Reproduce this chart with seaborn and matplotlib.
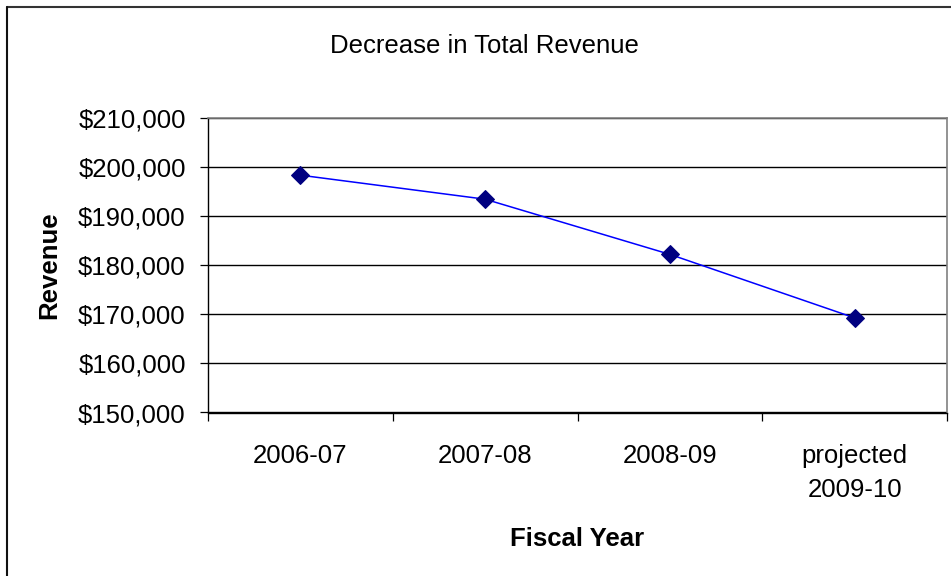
import matplotlib
matplotlib.use("Agg")
import matplotlib.pyplot as plt
from matplotlib.lines import Line2D
from matplotlib.ticker import FuncFormatter, FixedLocator
import seaborn as sns
import pandas as pd

categories = ["2006-07", "2007-08", "2008-09", "projected\n2009-10"]
revenue = [198400, 193500, 182250, 169300]
y_ticks = [150000, 160000, 170000, 180000, 190000, 200000, 210000]

sns.set_style("white")
plt.rcParams['font.family'] = ['Liberation Sans', 'DejaVu Sans']
plt.rcParams['text.color'] = 'black'
plt.rcParams['axes.labelcolor'] = 'black'
plt.rcParams['xtick.color'] = 'black'
plt.rcParams['ytick.color'] = 'black'

FS = 18.5
W, H, DPI = 951, 576, 100
fig = plt.figure(figsize=(W / DPI, H / DPI), dpi=DPI)
ax = fig.add_axes([208 / W, 1 - 412.5 / H, (947 - 208) / W, (412.5 - 118.3) / H])

df = pd.DataFrame({"pos": list(range(len(categories))), "revenue": revenue})
sns.lineplot(data=df, x="pos", y="revenue", ax=ax, color="#0000FF", linewidth=1.1,
             marker="D", markersize=9, markerfacecolor="#000080",
             markeredgecolor="#000080", zorder=3)

ax.set_xlim(-0.5, len(categories) - 0.5)
ax.set_ylim(y_ticks[0], y_ticks[-1])
ax.set_yticks(y_ticks)
ax.yaxis.set_major_formatter(FuncFormatter(lambda v, p: f"${v:,.0f}"))
ax.yaxis.grid(True, color="black", linewidth=1.0)
ax.set_axisbelow(True)

# category boundaries as major ticks, labels at centers as minor ticks
ax.xaxis.set_major_locator(FixedLocator([i - 0.5 for i in range(len(categories) + 1)]))
ax.xaxis.set_major_formatter(FuncFormatter(lambda v, p: ""))
ax.xaxis.set_minor_locator(FixedLocator(list(range(len(categories)))))
ax.set_xticklabels(categories, minor=True, linespacing=1.5)
ax.tick_params(axis="x", which="major", direction="out", length=6, width=0.9, color="black", bottom=True)
ax.tick_params(axis="x", which="minor", length=0, pad=23, labelsize=FS)
ax.tick_params(axis="y", which="major", direction="out", length=6, width=0.9, color="black",
               left=True, labelsize=FS, pad=10)

for s in ["left", "bottom"]:
    ax.spines[s].set_color("black")
    ax.spines[s].set_linewidth(1.0)
for s in ["top", "right"]:
    ax.spines[s].set_color("#808080")
    ax.spines[s].set_linewidth(1.2)

ax.set_xlabel("Fiscal Year", fontsize=FS, fontweight="bold", labelpad=18)
ax.set_ylabel("Revenue", fontsize=FS, fontweight="bold", labelpad=12)

fig.text(484 / W, 1 - 46 / H, "Decrease in Total Revenue", ha="center", va="center", fontsize=FS)

# outer chart-area border (top and left visible)
fig.add_artist(Line2D([7 / W, 1.0], [1 - 7 / H, 1 - 7 / H], transform=fig.transFigure,
                      color="#333333", linewidth=1.5))
fig.add_artist(Line2D([7 / W, 7 / W], [0.0, 1 - 7 / H], transform=fig.transFigure,
                      color="#111111", linewidth=1.5))

fig.savefig("out.png", dpi=DPI)
